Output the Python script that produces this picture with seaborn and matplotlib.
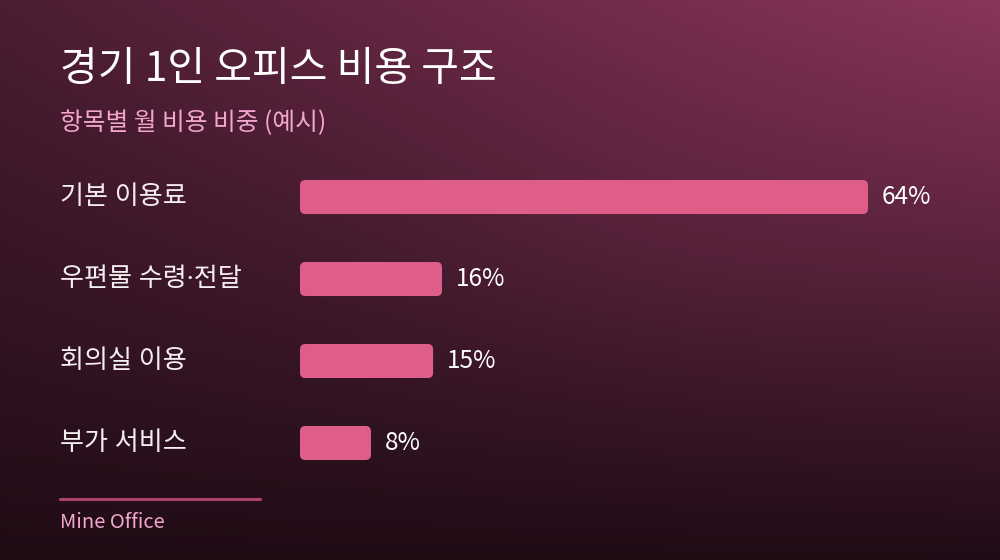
import numpy as np
import pandas as pd
import matplotlib
matplotlib.use("Agg")
import matplotlib.pyplot as plt
import seaborn as sns
from matplotlib.colors import to_rgb
from matplotlib.patches import FancyBboxPatch
from matplotlib.transforms import blended_transform_factory

# Data
categories = ["기본 이용료", "우편물 수령·전달", "회의실 이용", "부가 서비스"]
shares = [64, 16, 15, 8]
value_labels = ["64%", "16%", "15%", "8%"]

title = "경기 1인 오피스 비용 구조"
subtitle = "항목별 월 비용 비중 (예시)"
footer = "Mine Office"

sns.set_theme(style="white")
plt.rcParams["font.family"] = ["Noto Sans CJK KR", "DejaVu Sans"]
label_family = ["Noto Sans", "Noto Sans CJK KR", "DejaVu Sans"]

W, H = 1000, 560
fig = plt.figure(figsize=(W / 100, H / 100), dpi=100)

# Background gradient (dark plum, lighter toward the top right)
bg_ax = fig.add_axes([0, 0, 1, 1], zorder=0)
yy, xx = np.mgrid[0:H, 0:W]
f = np.clip(1 - yy / H, 0, 1) * (0.42 + 0.58 * xx / W)
f += 0.06 * np.exp(-(((xx - 680) / 260) ** 2 + ((yy - 230) / 160) ** 2))
f = np.clip(f, 0, 1)[..., None]
dark = np.array(to_rgb("#1f0c15"))
light = np.array(to_rgb("#8a355c"))
bg_ax.imshow(dark + (light - dark) * f, aspect="auto", extent=[0, 1, 0, 1])
bg_ax.set_axis_off()

# Bar axes
ax = fig.add_axes([0.30, 1 - 484 / H, 0.639, 328 / H], zorder=1)
ax.set_facecolor("none")
df = pd.DataFrame({"category": categories, "share": shares})
sns.barplot(data=df, x="share", y="category", orient="h", color="#df5e89",
            width=0.415, ax=ax, saturation=1)
ax.set_xlim(0, 72)
ax.set_ylim(3.5, -0.5)

# Swap plain bars for rounded ones
px_x = 639 / 72
px_y = 82
for p in list(ax.patches):
    x0, y0, w, h = p.get_x(), p.get_y(), p.get_width(), p.get_height()
    p.remove()
    rb = FancyBboxPatch((x0, y0), w, h,
                        boxstyle="round,pad=0,rounding_size=0.6",
                        mutation_aspect=px_x / px_y,
                        facecolor="#df5e89", edgecolor="none")
    ax.add_patch(rb)

for i, (v, lab) in enumerate(zip(shares, value_labels)):
    ax.text(v + 14 / px_x, i, lab, va="center", ha="left",
            color="white", fontsize=17.5)

ax.set_xlabel("")
ax.set_ylabel("")
ax.set_xticks([])
ax.set_yticks([])
sns.despine(ax=ax, left=True, bottom=True)

# Category labels at the left edge
trans = blended_transform_factory(fig.transFigure, ax.transData)
for i, c in enumerate(categories):
    ax.text(60 / W, i, c, transform=trans, va="center", ha="left",
            color="#f4eef1", fontsize=18.8, family=label_family)

# Title, subtitle, footer
fig.text(60 / W, 1 - 70 / H, title, color="white", fontsize=29.5,
         va="center", ha="left")
fig.text(60 / W, 1 - 123 / H, subtitle, color="#f2a6cf", fontsize=17.8,
         va="center", ha="left")
fig.add_artist(plt.Line2D([60 / W, 260 / W], [1 - 499 / H, 1 - 499 / H],
                          color="#a9436d", linewidth=2.2))
fig.text(60 / W, 1 - 522 / H, footer, color="#f2a6cf", fontsize=14.5,
         va="center", ha="left")

fig.savefig("out.png", dpi=100)
